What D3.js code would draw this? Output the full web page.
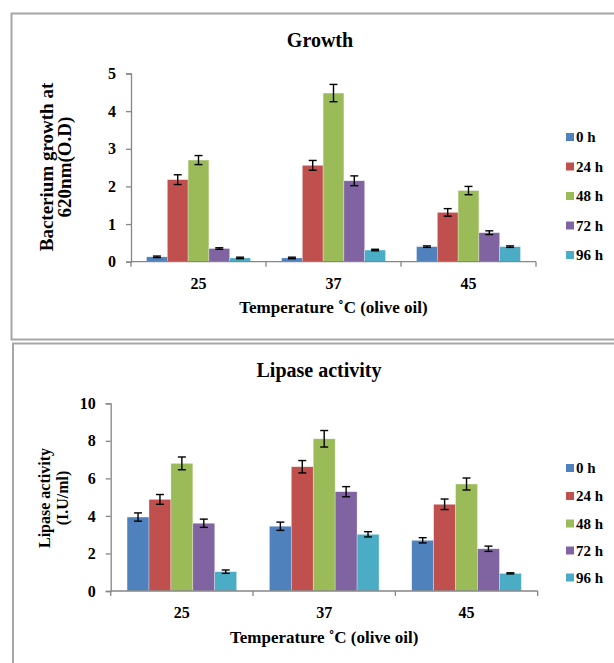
<!DOCTYPE html>
<html>
<head>
<meta charset="utf-8">
<script src="https://cdn.jsdelivr.net/npm/d3@7"></script>
<style>
  body { margin: 0; background: #fff; }
</style>
</head>
<body>
<div id="chart"></div>
<script>
const FONT = "'Liberation Serif', 'Times New Roman', 'DejaVu Serif', serif";

// categories and series
const temperatures = ["25", "37", "45"];
const hours = ["0 h", "24 h", "48 h", "72 h", "96 h"];
const colors = ["#4F81BD", "#C0504D", "#9BBB59", "#8064A2", "#4BACC6"];

// growth (O.D) - one row per series, one value per temperature
const growthMean = [
  [0.13, 0.10, 0.40],
  [2.18, 2.56, 1.31],
  [2.70, 4.48, 1.89],
  [0.35, 2.15, 0.77],
  [0.10, 0.31, 0.40]
];
const growthErr = [
  [0.02, 0.02, 0.02],
  [0.13, 0.13, 0.10],
  [0.12, 0.23, 0.11],
  [0.02, 0.13, 0.05],
  [0.02, 0.02, 0.02]
];
const growthTicks = [0, 1, 2, 3, 4, 5];

// lipase activity (I.U/ml)
const lipaseMean = [
  [3.94, 3.45, 2.70],
  [4.88, 6.62, 4.62],
  [6.80, 8.11, 5.70],
  [3.61, 5.29, 2.25],
  [1.03, 3.02, 0.94]
];
const lipaseErr = [
  [0.22, 0.22, 0.14],
  [0.26, 0.33, 0.28],
  [0.34, 0.44, 0.32],
  [0.22, 0.27, 0.14],
  [0.09, 0.14, 0.03]
];
const lipaseTicks = [0, 2, 4, 6, 8, 10];

const svg = d3.select("#chart")
  .append("svg")
  .attr("width", 614)
  .attr("height", 663)
  .attr("font-family", FONT)
  .attr("font-weight", "bold");

// panel frames
svg.append("rect")
  .attr("x", 11.5).attr("y", 13.5)
  .attr("width", 640).attr("height", 326)
  .attr("fill", "none").attr("stroke", "#a6a6a6").attr("stroke-width", 2);
svg.append("rect")
  .attr("x", 13).attr("y", 343.5)
  .attr("width", 640).attr("height", 340)
  .attr("fill", "none").attr("stroke", "#a6a6a6").attr("stroke-width", 2);

function drawPanel(p) {
  const g = svg.append("g");

  const x0 = d3.scaleBand().domain(temperatures).range([p.left, p.right]);
  const pad = x0.bandwidth() * 0.115;
  const x1 = d3.scaleBand().domain(hours).range([pad, x0.bandwidth() - pad]);
  const y = d3.scaleLinear().domain([0, d3.max(p.ticks)]).range([p.bottom, p.top]);

  // bars
  const rows = [];
  hours.forEach((h, si) => {
    temperatures.forEach((t, ci) => {
      rows.push({ h, t, si, v: p.mean[si][ci], e: p.err[si][ci] });
    });
  });

  g.selectAll(".bar")
    .data(rows)
    .enter()
    .append("rect")
    .attr("x", d => x0(d.t) + x1(d.h))
    .attr("y", d => y(d.v))
    .attr("width", x1.bandwidth())
    .attr("height", d => y(0) - y(d.v))
    .attr("fill", d => colors[d.si])
    .attr("stroke", "#ffffff")
    .attr("stroke-opacity", 0.5)
    .attr("stroke-width", 0.6);

  // error bars
  const cap = 4;
  const eb = g.selectAll(".err").data(rows).enter().append("g")
    .attr("stroke", "#000").attr("stroke-width", 1.4);
  const cx = d => x0(d.t) + x1(d.h) + x1.bandwidth() / 2;
  eb.append("line")
    .attr("x1", cx).attr("x2", cx)
    .attr("y1", d => y(d.v + d.e)).attr("y2", d => y(d.v - d.e));
  eb.append("line")
    .attr("x1", d => cx(d) - cap).attr("x2", d => cx(d) + cap)
    .attr("y1", d => y(d.v + d.e)).attr("y2", d => y(d.v + d.e));
  eb.append("line")
    .attr("x1", d => cx(d) - cap).attr("x2", d => cx(d) + cap)
    .attr("y1", d => y(d.v - d.e)).attr("y2", d => y(d.v - d.e));

  // y axis
  const yAxis = g.append("g")
    .attr("transform", `translate(${p.left},0)`)
    .call(d3.axisLeft(y).tickValues(p.ticks).tickFormat(d3.format("d")).tickSize(5).tickPadding(10));
  yAxis.attr("font-family", FONT).attr("font-size", 16);
  yAxis.select(".domain").attr("stroke", "#868686").attr("stroke-width", 1.3);
  yAxis.selectAll(".tick line").attr("stroke", "#868686").attr("stroke-width", 1.3);

  // x axis: ticks at category boundaries
  const xAxisG = g.append("g");
  xAxisG.append("line")
    .attr("x1", p.left).attr("x2", p.right)
    .attr("y1", y(0)).attr("y2", y(0))
    .attr("stroke", "#868686").attr("stroke-width", 1.3);
  const bounds = temperatures.map(t => x0(t)).concat([p.right]);
  xAxisG.selectAll(".xt")
    .data(bounds)
    .enter()
    .append("line")
    .attr("x1", d => d).attr("x2", d => d)
    .attr("y1", y(0)).attr("y2", y(0) + 5)
    .attr("stroke", "#868686").attr("stroke-width", 1.3);
  xAxisG.selectAll(".xl")
    .data(temperatures)
    .enter()
    .append("text")
    .attr("x", d => x0(d) + x0.bandwidth() / 2)
    .attr("y", p.xLabelY)
    .attr("text-anchor", "middle")
    .attr("dy", "0.35em")
    .attr("font-size", 16)
    .text(d => d);

  // axis titles and chart title
  g.append("text")
    .attr("x", (p.left + p.right) / 2)
    .attr("y", p.xTitleY)
    .attr("dy", "0.35em")
    .attr("text-anchor", "middle")
    .attr("font-size", 17)
    .text("Temperature ˚C (olive oil)");

  g.append("text")
    .attr("x", p.titleX)
    .attr("y", p.titleY)
    .attr("dy", "0.35em")
    .attr("text-anchor", "middle")
    .attr("font-size", 20)
    .text(p.title);

  const yt = g.append("text")
    .attr("transform", `translate(${p.yTitleX},${p.yTitleY}) rotate(-90)`)
    .attr("text-anchor", "middle")
    .attr("font-size", p.yTitleSize);
  p.yTitle.forEach((line, i) => {
    yt.append("tspan")
      .attr("x", 0)
      .attr("dy", i === 0 ? "0.35em" : p.yTitleGap)
      .text(line);
  });

  // legend
  const legend = g.selectAll(".legend")
    .data(hours)
    .enter()
    .append("g")
    .attr("transform", (d, i) => `translate(566,${p.legendY[i]})`);
  legend.append("rect")
    .attr("x", 0).attr("y", -4)
    .attr("width", 8).attr("height", 8)
    .attr("fill", (d, i) => colors[i]);
  legend.append("text")
    .attr("x", 10)
    .attr("dy", "0.35em")
    .attr("font-size", 15)
    .text(d => d);
}

drawPanel({
  left: 131, right: 536, top: 73.5, bottom: 261.7,
  ticks: growthTicks, mean: growthMean, err: growthErr,
  xLabelY: 283, xTitleY: 307,
  title: "Growth", titleX: 320, titleY: 40,
  yTitle: ["Bacterium growth at", "620nm(O.D)"], yTitleX: 46, yTitleY: 167,
  yTitleSize: 19, yTitleGap: "0.95em",
  legendY: [137, 166.5, 196, 225.5, 255]
});

drawPanel({
  left: 110.7, right: 537.7, top: 403.3, bottom: 591,
  ticks: lipaseTicks, mean: lipaseMean, err: lipaseErr,
  xLabelY: 612, xTitleY: 637,
  title: "Lipase activity", titleX: 319, titleY: 370,
  yTitle: ["Lipase activity", "(I.U/ml)"], yTitleX: 44, yTitleY: 498,
  yTitleSize: 16, yTitleGap: "1.15em",
  legendY: [468, 496, 523.5, 550.5, 577.5]
});
</script>
</body>
</html>
